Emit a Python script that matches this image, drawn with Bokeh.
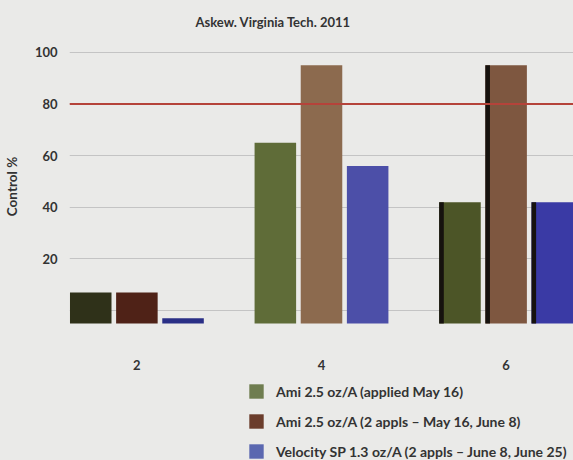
from bokeh.plotting import figure
from bokeh.layouts import column
from bokeh.models import (ColumnDataSource, Legend, LegendItem, FixedTicker, Span, Title)
from bokeh.embed import file_html
from bokeh.resources import INLINE

# Weeks after treatment and percent control per treatment
weeks = [2, 4, 6]
ami_single = [7, 65, 42]
ami_double = [7, 95, 95]
velocity = [0, 56, 42]
series_names = [
    "Ami 2.5 oz/A (applied May 16)",
    "Ami 2.5 oz/A (2 appls \u2013 May 16, June 8)",
    "Velocity SP 1.3 oz/A (2 appls \u2013 June 8, June 25)",
]
y_ticks = [0, 20, 40, 60, 80, 100]
threshold = 80

FONT = "Lato"
BG = "#eaeae8"
# per-week shading of each series (the chart is lit unevenly)
bar_colors = [
    ["#2f3119", "#5f6c38", "#4c5527"],
    ["#4f2217", "#8c6a4e", "#7e5740"],
    ["#2a2f86", "#4c4fa8", "#3a3aa5"],
]
legend_colors = ["#6f7d50", "#6b3d2c", "#5b68b0"]
FLOOR = -5          # front edge of the 3D floor
offsets = [-0.5, 0.0, 0.5]
bar_w = 0.45
side_w = 0.05       # dark side face on the last group

p = figure(width=573, height=372, output_backend="svg", toolbar_location=None,
           x_range=(1.27, 6.73), y_range=(-10.8, 106.9),
           min_border_left=66, min_border_right=0, min_border_top=34,
           min_border_bottom=32, background_fill_color=BG,
           border_fill_color=BG, outline_line_color=None)

p.add_layout(Title(text="Askew. Virginia Tech. 2011", text_font=FONT,
                   text_font_size="13px", text_font_style="bold",
                   text_color="#333333", align="left", offset=126,
                   standoff=10), "above")

# grid
p.xgrid.grid_line_color = None
p.ygrid.ticker = FixedTicker(ticks=y_ticks)
p.ygrid.grid_line_color = "#c4c4c4"
p.ygrid.grid_line_width = 1

# axes
p.yaxis.ticker = FixedTicker(ticks=y_ticks)
p.yaxis.major_label_overrides = {0: ""}
p.yaxis.bounds = (12, 100)
p.yaxis.axis_label = "Control %"
p.xaxis.ticker = FixedTicker(ticks=weeks)
for ax in (p.xaxis[0], p.yaxis[0]):
    ax.axis_line_color = None
    ax.major_tick_line_color = None
    ax.minor_tick_line_color = None
    ax.major_label_text_font = FONT
    ax.major_label_text_font_size = "13px"
    ax.major_label_text_font_style = "bold"
    ax.major_label_text_color = "#333333"
p.yaxis.major_label_standoff = 6
p.yaxis.axis_label_text_font = FONT
p.yaxis.axis_label_text_font_size = "13.5px"
p.yaxis.axis_label_text_font_style = "bold"
p.yaxis.axis_label_text_color = "#333333"
p.yaxis.axis_label_standoff = 12
p.xaxis.major_label_standoff = 15

# threshold line
p.add_layout(Span(location=threshold, dimension="width",
                  line_color="#b5433a", line_width=2))

# bars
for vals, off, cols in zip([ami_single, ami_double, velocity], offsets, bar_colors):
    xs = [w + off for w in weeks]
    tops = [v if v > 0 else FLOOR + 2 for v in vals]
    src = ColumnDataSource(dict(x=xs, top=tops, bottom=[FLOOR] * len(xs), color=cols))
    p.vbar(x="x", top="top", bottom="bottom", width=bar_w, source=src,
           fill_color="color", line_color=None)
    # dark side face of the bars in the last group
    side = ColumnDataSource(dict(x=[xs[-1] - bar_w / 2 + side_w / 2],
                                 top=[vals[-1]], bottom=[FLOOR]))
    p.vbar(x="x", top="top", bottom="bottom", width=side_w, source=side,
           fill_color="#16120e", line_color=None)

# legend strip under the chart
lg = figure(width=573, height=88, output_backend="svg", toolbar_location=None,
            x_range=(0, 1), y_range=(0, 1), min_border=0,
            background_fill_color=BG, border_fill_color=BG,
            outline_line_color=None)
lg.axis.visible = False
lg.grid.visible = False
items = []
for name, col in zip(series_names, legend_colors):
    r = lg.rect(x=[-5], y=[-5], width=0.1, height=0.1, fill_color=col, line_color=None)
    items.append(LegendItem(label=name, renderers=[r]))
legend = Legend(items=items, location=(178, 0), orientation="vertical",
                background_fill_alpha=0, border_line_color=None,
                glyph_width=18, glyph_height=18, spacing=12, padding=0,
                margin=0, label_standoff=11, label_text_font=FONT,
                label_text_font_size="14px", label_text_font_style="bold",
                label_text_color="#333333", label_height=18)
lg.add_layout(legend, "center")

layout = column(p, lg, spacing=0, styles={"background-color": BG})
open("out.html", "w").write(file_html(layout, INLINE))
